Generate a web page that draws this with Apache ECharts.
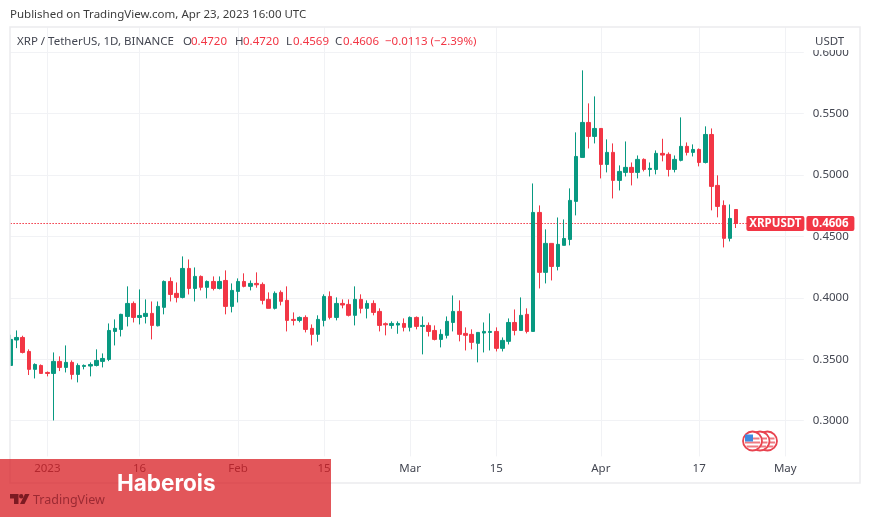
<!DOCTYPE html>
<html>
<head>
<meta charset="utf-8">
<title>XRPUSDT</title>
<style>
  html, body { margin: 0; padding: 0; background: #fff; }
  #container { width: 871px; height: 518px; }
</style>
<script src="https://cdn.jsdelivr.net/npm/echarts@6/dist/echarts.min.js"></script>
</head>
<body>
<div id="container"></div>
<script type="text/javascript">
// daily bars, Dec 26 2022 to Apr 23 2023, then empty days to the pane edge
var days = [
  '12-26','12-27','12-28','12-29','12-30','12-31',
  '01-01','01-02','01-03','01-04','01-05','01-06','01-07','01-08','01-09','01-10','01-11','01-12','01-13','01-14','01-15','01-16',
  '01-17','01-18','01-19','01-20','01-21','01-22','01-23','01-24','01-25','01-26','01-27','01-28','01-29','01-30','01-31',
  '02-01','02-02','02-03','02-04','02-05','02-06','02-07','02-08','02-09','02-10','02-11','02-12','02-13','02-14','02-15',
  '02-16','02-17','02-18','02-19','02-20','02-21','02-22','02-23','02-24','02-25','02-26','02-27','02-28',
  '03-01','03-02','03-03','03-04','03-05','03-06','03-07','03-08','03-09','03-10','03-11','03-12','03-13','03-14','03-15',
  '03-16','03-17','03-18','03-19','03-20','03-21','03-22','03-23','03-24','03-25','03-26','03-27','03-28','03-29','03-30','03-31',
  '04-01','04-02','04-03','04-04','04-05','04-06','04-07','04-08','04-09','04-10','04-11','04-12','04-13','04-14','04-15','04-16','04-17',
  '04-18','04-19','04-20','04-21','04-22','04-23','04-24','04-25','04-26','04-27','04-28','04-29','04-30',
  '05-01','05-02','05-03','05-04'
];

var opens = [
  .3450,.3657,.3678,.3564,.3418,.3450,.3393,.3385,.3483,.3434,
  .3475,.3377,.3442,.3445,.3450,.3483,.3499,.3727,.3743,.3849,
  .3955,.3841,.3849,.3874,.3773,.3923,.4134,.4037,.4004,.4240,
  .4077,.4175,.4086,.4134,.4077,.4142,.3931,.4053,.4134,.4094,
  .4118,.4110,.3988,.3915,.4045,.3980,.3825,.3817,.3841,.3752,
  .3703,.3817,.4012,.3841,.3955,.3947,.3858,.3988,.3915,.3955,
  .3890,.3790,.3776,.3779,.3792,.3760,.3841,.3768,.3776,.3735,
  .3662,.3695,.3800,.3890,.3711,.3703,.3630,.3714,.3719,.3727,
  .3589,.3646,.3800,.3735,.3866,.3727,.4696,.4208,.4444,.4256,
  .4428,.4476,.4786,.5144,.5429,.5315,.5380,.5087,.5185,.4957,
  .5022,.5063,.5022,.5128,.5046,.5046,.5177,.5169,.5046,.5120,
  .5234,.5185,.5209,.5103,.5331,.4916,.4753,.4485,.4720
];
var closes = [
  .3662,.3678,.3556,.3418,.3458,.3385,.3385,.3483,.3434,.3475,
  .3377,.3450,.3450,.3458,.3491,.3507,.3735,.3752,.3866,.3955,
  .3841,.3857,.3874,.3776,.3931,.4134,.4028,.4004,.4240,.4077,
  .4175,.4086,.4134,.4077,.4134,.3931,.4061,.4134,.4094,.4118,
  .4107,.3980,.3915,.4037,.3972,.3817,.3817,.3841,.3743,.3703,
  .3825,.4012,.3841,.3955,.3942,.3858,.3988,.3915,.3955,.3882,
  .3776,.3781,.3792,.3792,.3760,.3841,.3768,.3776,.3727,.3662,
  .3703,.3809,.3890,.3703,.3695,.3638,.3719,.3727,.3727,.3589,
  .3654,.3800,.3735,.3858,.3727,.4696,.4208,.4444,.4256,.4436,
  .4484,.4794,.5152,.5429,.5315,.5380,.5087,.5185,.4957,.5030,
  .5063,.5022,.5128,.5046,.5055,.5177,.5163,.5046,.5128,.5234,
  .5185,.5209,.5103,.5331,.4908,.4745,.4485,.4647,.4606
];
var lows = [
  .3450,.3591,.3548,.3372,.3344,.3385,.3361,.3002,.3404,.3393,
  .3336,.3312,.3418,.3361,.3442,.3434,.3485,.3613,.3686,.3768,
  .3800,.3784,.3792,.3662,.3768,.3866,.3971,.3963,.3996,.4028,
  .3971,.4061,.3996,.4061,.4069,.3866,.3882,.3963,.4086,.4061,
  .4083,.3947,.3915,.3906,.3939,.3727,.3776,.3801,.3719,.3613,
  .3643,.3768,.3825,.3817,.3915,.3849,.3776,.3874,.3833,.3858,
  .3727,.3695,.3749,.3708,.3727,.3727,.3744,.3540,.3686,.3654,
  .3597,.3670,.3727,.3646,.3572,.3581,.3475,.3556,.3572,.3564,
  .3564,.3621,.3695,.3735,.3711,.3727,.4077,.4118,.4142,.4224,
  .4428,.4428,.4672,.5144,.5217,.5258,.4973,.5022,.4810,.4875,
  .4989,.4916,.4973,.5030,.4989,.5006,.5112,.4989,.5022,.5112,
  .5160,.5152,.5071,.5095,.4713,.4656,.4411,.4460,.4569
];
var highs = [
  .3700,.3735,.3692,.3581,.3467,.3458,.3401,.3556,.3524,.3613,
  .3491,.3467,.3458,.3475,.3581,.3548,.3792,.3825,.3871,.4094,
  .3971,.4069,.3988,.3971,.3971,.4142,.4167,.4126,.4338,.4313,
  .4248,.4183,.4142,.4175,.4175,.4224,.4118,.4159,.4200,.4142,
  .4208,.4126,.4045,.4053,.4061,.4094,.3882,.3849,.3858,.3784,
  .3858,.4029,.4053,.4004,.3988,.3988,.4094,.4029,.3980,.3980,
  .3915,.3800,.3809,.3809,.3833,.3849,.3849,.3849,.3800,.3776,
  .3744,.3849,.4020,.3980,.3760,.3744,.3719,.3800,.3874,.3760,
  .3678,.3833,.3906,.4004,.3915,.4932,.4753,.4558,.4444,.4655,
  .4639,.4892,.5348,.5853,.5584,.5641,.5380,.5291,.5258,.5079,
  .5274,.5103,.5160,.5136,.5103,.5201,.5296,.5185,.5160,.5470,
  .5266,.5250,.5217,.5397,.5380,.4998,.4794,.4761,.4720
];

var priceTicks = [0.30, 0.35, 0.40, 0.45, 0.50, 0.55, 0.60];
var timeTicks = { '01-01': '2023', '01-16': '16', '02-01': 'Feb', '02-15': '15', '03-01': 'Mar', '03-15': '15', '04-01': 'Apr', '04-17': '17', '05-01': 'May' };
var lastPrice = 0.4606;
var lastDay = '04-25';

var UP = '#089981', DOWN = '#f23645', GRID = '#f1f2f5', TEXT = '#434651';
var FONT = 'Noto Sans';

var bars = [];
for (var i = 0; i < opens.length; i++) {
  bars.push([opens[i], closes[i], lows[i], highs[i]]);
}

function isTick(index) {
  return timeTicks[days[index]] !== undefined;
}

function headText(x, y, str, color) {
  return { type: 'text', z: 60, x: x, y: y, style: { text: str, fill: color, font: '11.5px "' + FONT + '"', textVerticalAlign: 'middle' } };
}

// flag badge on the economic events marker
function flag(cx, cy) {
  var kids = [
    { type: 'circle', shape: { cx: cx, cy: cy, r: 9.5 }, style: { fill: '#fff', stroke: '#e8434f', lineWidth: 1.8 } },
    { type: 'rect', shape: { x: cx - 7, y: cy - 3.5, width: 14, height: 2 }, style: { fill: '#ee7a82' } },
    { type: 'rect', shape: { x: cx - 7.5, y: cy + 0.5, width: 15, height: 2 }, style: { fill: '#ee7a82' } },
    { type: 'rect', shape: { x: cx - 6, y: cy + 4.5, width: 12, height: 2 }, style: { fill: '#ee7a82' } },
    { type: 'rect', shape: { x: cx - 7.5, y: cy - 6.5, width: 8, height: 7 }, style: { fill: '#3f8ae0' } }
  ];
  return { type: 'group', z: 30, children: kids };
}

var dom = document.getElementById('container');
var myChart = echarts.init(dom);

var option = {
  animation: false,
  backgroundColor: '#fff',
  grid: { left: 10.4, top: 27.4, width: 793.35, height: 429, containLabel: false },
  xAxis: {
    type: 'category',
    data: days,
    boundaryGap: false,
    axisLine: { show: false },
    axisTick: { show: false },
    axisLabel: {
      interval: function (index) { return isTick(index); },
      formatter: function (value) { return timeTicks[value] || ''; },
      color: TEXT,
      fontFamily: FONT,
      fontSize: 11.5,
      margin: 6
    },
    splitLine: {
      show: true,
      interval: function (index) { return isTick(index); },
      lineStyle: { color: GRID, width: 1 }
    }
  },
  yAxis: {
    type: 'value',
    position: 'right',
    min: 0.27093,
    max: 0.62028,
    axisLine: { show: false },
    axisTick: { show: false, customValues: priceTicks },
    axisLabel: {
      customValues: priceTicks,
      formatter: function (v) { return v.toFixed(4); },
      color: TEXT,
      fontFamily: FONT,
      fontSize: 11.5,
      margin: 9
    },
    splitLine: { show: true, lineStyle: { color: GRID, width: 1 } }
  },
  series: [
    {
      // dotted last price line, drawn under the bars
      name: 'last',
      type: 'line',
      z: 1,
      silent: true,
      showSymbol: false,
      data: [[days[0], lastPrice], [lastDay, lastPrice]],
      lineStyle: { color: DOWN, type: [1.5, 1.5], width: 1.2 }
    },
    {
      name: 'XRPUSDT',
      type: 'candlestick',
      z: 2,
      data: bars,
      barWidth: 4,
      clip: true,
      itemStyle: { color: UP, color0: DOWN, borderColor: UP, borderColor0: DOWN, borderWidth: 1 },
      markLine: {
        silent: true,
        symbol: 'none',
        animation: false,
        lineStyle: { color: 'rgba(0,0,0,0)', width: 1 },
        label: {
          position: 'end',
          distance: -2,
          formatter: '{a|XRPUSDT}{g|}{b|' + lastPrice.toFixed(4) + '}',
          rich: {
            a: { backgroundColor: DOWN, color: '#fff', fontFamily: FONT, fontSize: 11.5, fontWeight: 'bold', width: 58, height: 15, align: 'center', borderRadius: 2 },
            g: { width: 2, height: 15 },
            b: { backgroundColor: DOWN, color: '#fff', fontFamily: FONT, fontSize: 11.5, fontWeight: 'bold', width: 48, height: 15, align: 'center', borderRadius: 2 }
          }
        },
        data: [[{ coord: [days[0], lastPrice] }, { coord: [lastDay, lastPrice] }]]
      }
    }
  ],
  graphic: [
    // keeps the half bar at the left edge inside the frame
    { type: 'rect', z: 19, shape: { x: 0, y: 27, width: 10, height: 456 }, style: { fill: '#fff' } },
    // chart frame
    { type: 'rect', z: 20, shape: { x: 10, y: 27, width: 850, height: 456 }, style: { fill: 'none', stroke: '#ebebee', lineWidth: 1.5 } },
    // legend strip cuts the top price label
    { type: 'rect', z: 21, shape: { x: 806, y: 28, width: 53, height: 22 }, style: { fill: '#fff' } },
    headText(10, 15, 'Published on TradingView.com, Apr 23, 2023 16:00 UTC', '#3c3c3c'),
    headText(17, 42, 'XRP / TetherUS, 1D, BINANCE', TEXT),
    headText(183, 42, 'O', TEXT),
    headText(191, 42, '0.4720', DOWN),
    headText(235, 42, 'H', TEXT),
    headText(243, 42, '0.4720', DOWN),
    headText(286, 42, 'L', TEXT),
    headText(293, 42, '0.4569', DOWN),
    headText(335, 42, 'C', TEXT),
    headText(343, 42, '0.4606', DOWN),
    headText(385, 42, '\u22120.0113 (\u22122.39%)', DOWN),
    headText(815, 42, 'USDT', TEXT),
    flag(767.5, 441),
    flag(760, 441),
    flag(752.5, 441),
    // red watermark band with logo
    { type: 'rect', z: 80, shape: { x: 0, y: 459, width: 331, height: 58 }, style: { fill: 'rgba(216,30,35,0.75)' } },
    { type: 'polygon', z: 81, shape: { points: [[10, 494], [18.5, 494], [18.5, 504], [14, 504], [14, 498.5], [10, 498.5]] }, style: { fill: '#7c1a22' } },
    { type: 'polygon', z: 81, shape: { points: [[25, 494], [29.5, 494], [24.5, 504], [20, 504]] }, style: { fill: '#7c1a22' } },
    { type: 'circle', z: 81, shape: { cx: 21.2, cy: 496.2, r: 2.2 }, style: { fill: '#7c1a22' } },
    { type: 'text', z: 81, x: 33, y: 500, style: { text: 'TradingView', fill: '#9c2a33', font: '12.5px "' + FONT + '"', textVerticalAlign: 'middle' } },
    { type: 'text', z: 82, x: 117, y: 484, style: { text: 'Haberois', fill: '#fff', font: 'bold 22.5px Inter', textVerticalAlign: 'middle' } }
  ]
};

myChart.setOption(option, true);
</script>
</body>
</html>
